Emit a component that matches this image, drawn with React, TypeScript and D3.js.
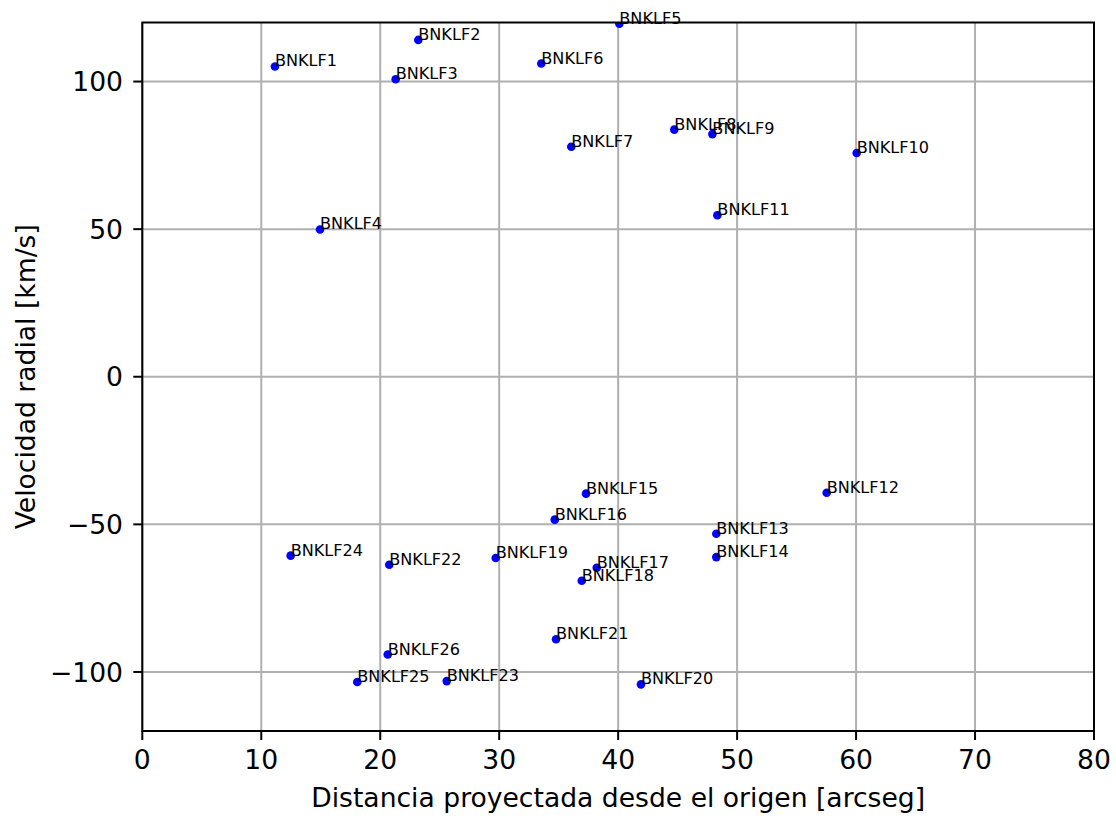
import React from "react";
import * as d3 from "d3";

// Proyected distance (arcsec) and radial velocity (km/s) of each BNKLF source
const names = [
  "BNKLF1", "BNKLF2", "BNKLF3", "BNKLF4", "BNKLF5", "BNKLF6", "BNKLF7",
  "BNKLF8", "BNKLF9", "BNKLF10", "BNKLF11", "BNKLF12", "BNKLF13", "BNKLF14",
  "BNKLF15", "BNKLF16", "BNKLF17", "BNKLF18", "BNKLF19", "BNKLF20", "BNKLF21",
  "BNKLF22", "BNKLF23", "BNKLF24", "BNKLF25", "BNKLF26",
];
const distances = [
  11.15, 23.2, 21.3, 14.94, 40.1, 33.54, 36.06,
  44.72, 47.92, 60.05, 48.34, 57.53, 48.25, 48.25,
  37.3, 34.67, 38.2, 36.94, 29.71, 41.92, 34.78,
  20.76, 25.59, 12.47, 18.07, 20.63,
];
const velocities = [
  105.1, 114.1, 100.8, 49.9, 119.6, 106.1, 77.9,
  83.7, 82.2, 75.8, 54.7, -39.3, -53.2, -61.1,
  -39.6, -48.4, -64.7, -69.1, -61.4, -104.2, -88.9,
  -63.7, -103.1, -60.6, -103.4, -94.1,
];

const xTicks = [0, 10, 20, 30, 40, 50, 60, 70, 80];
const yTicks = [-100, -50, 0, 50, 100];

const W = 1116;
const H = 818;
const left = 142.3;
const right = 1094;
const top = 22.5;
const bottom = 731;

const FONT = "'DejaVu Sans', sans-serif";
const GRID = "#b0b0b0";
const AXIS_FONT = 26.6;
const LABEL_FONT = 16.1;

export default function App() {
  const x = d3.scaleLinear().domain([0, 80]).range([left, right]);
  const y = d3.scaleLinear().domain([-120, 120]).range([bottom, top]);
  const fmt = (v: number) => (v < 0 ? "\u2212" + Math.abs(v) : String(v));

  const pts = names.map((n, i) => ({ n, d: distances[i], v: velocities[i] }));

  return (
    <svg
      width={W}
      height={H}
      style={{ position: "absolute", left: 0, top: 0, background: "#fff" }}
      fontFamily={FONT}
    >
      <defs>
        <clipPath id="plotArea">
          <rect x={left} y={top} width={right - left} height={bottom - top} />
        </clipPath>
      </defs>
      <rect width={W} height={H} fill="#fff" />

      {/* grid */}
      <g stroke={GRID} strokeWidth={2}>
        {xTicks.map((t) => (
          <line key={"gx" + t} x1={x(t)} x2={x(t)} y1={top} y2={bottom} />
        ))}
        {yTicks.map((t) => (
          <line key={"gy" + t} x1={left} x2={right} y1={y(t)} y2={y(t)} />
        ))}
      </g>

      {/* points */}
      <g clipPath="url(#plotArea)">
        {pts.map((p) => (
          <circle key={p.n} cx={x(p.d)} cy={y(p.v)} r={4.3} fill="#0000ff" />
        ))}
      </g>

      {/* point labels */}
      <g fontSize={LABEL_FONT} fill="#000">
        {pts.map((p) => (
          <text key={"l" + p.n} x={x(p.d)} y={y(p.v)}>
            {p.n}
          </text>
        ))}
      </g>

      {/* spines */}
      <rect
        x={left}
        y={top}
        width={right - left}
        height={bottom - top}
        fill="none"
        stroke="#000"
        strokeWidth={2}
      />

      {/* ticks and tick labels */}
      <g fontSize={AXIS_FONT}>
        {xTicks.map((t) => (
          <g key={"tx" + t}>
            <line x1={x(t)} x2={x(t)} y1={bottom} y2={bottom + 9} stroke="#000" strokeWidth={2} />
            <text x={x(t)} y={768.5} textAnchor="middle">
              {fmt(t)}
            </text>
          </g>
        ))}
        {yTicks.map((t) => (
          <g key={"ty" + t}>
            <line x1={left - 9} x2={left} y1={y(t)} y2={y(t)} stroke="#000" strokeWidth={2} />
            <text x={123} y={y(t) + 9.7} textAnchor="end">
              {fmt(t)}
            </text>
          </g>
        ))}
      </g>

      {/* axis titles */}
      <text x={(left + right) / 2} y={806.5} textAnchor="middle" fontSize={AXIS_FONT}>
        Distancia proyectada desde el origen [arcseg]
      </text>
      <text
        transform={`translate(35, ${(top + bottom) / 2}) rotate(-90)`}
        textAnchor="middle"
        fontSize={AXIS_FONT}
      >
        Velocidad radial [km/s]
      </text>
    </svg>
  );
}
